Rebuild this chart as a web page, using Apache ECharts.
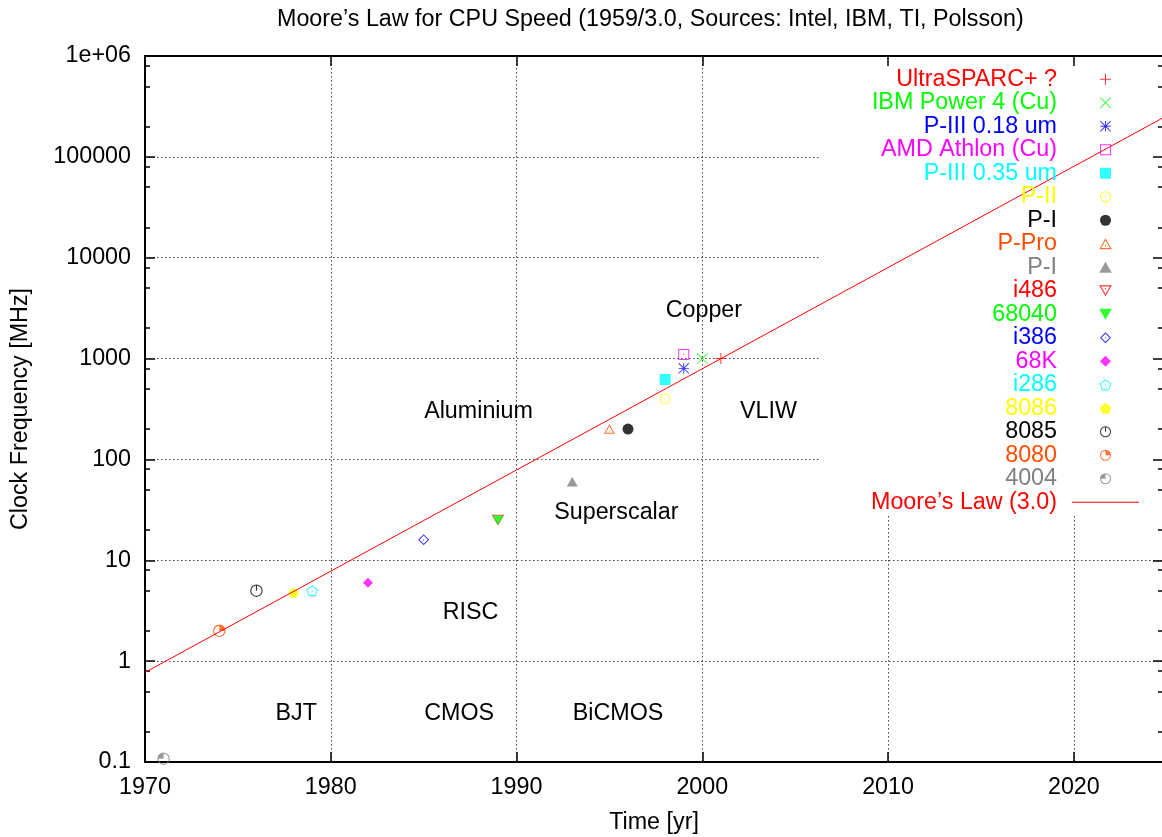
<!DOCTYPE html>
<html><head><meta charset="utf-8">
<script src="https://cdn.jsdelivr.net/npm/echarts@6/dist/echarts.min.js"></script>
<style>html,body{margin:0;padding:0;background:#fff}#c{width:1162px;height:837px}</style>
</head><body><div id="c"></div>
<script>
// ---------------- data ----------------
const chartTitle = 'Moore\u2019s Law for CPU Speed (1959/3.0, Sources: Intel, IBM, TI, Polsson)';
const xAxisName = 'Time [yr]';
const yAxisName = 'Clock Frequency [MHz]';
const yTickLabels = ['0.1', '1', '10', '100', '1000', '10000', '100000', '1e+06'];
const yMinorTicks = [0.2, 0.5, 0.8, 2, 5, 8, 20, 50, 80, 200, 500, 800, 2000, 5000, 8000, 20000, 50000, 80000, 200000, 500000, 800000];
const seriesNames = ['UltraSPARC+ ?', 'IBM Power 4 (Cu)', 'P-III 0.18 um', 'AMD Athlon (Cu)', 'P-III 0.35 um', 'P-II', 'P-I', 'P-Pro', 'P-I ', 'i486', '68040', 'i386', '68K', 'i286', '8086', '8085', '8080', '4004'];
const years    = [2001, 2000, 1999, 1999, 1998, 1998, 1996, 1995, 1993, 1989, 1989, 1985, 1982, 1979, 1978, 1976, 1974, 1971];
const clockMHz = [1000, 1000, 800, 1100, 620, 400, 200, 200, 60, 25, 25, 16, 6, 5, 4.77, 5, 2, 0.108];
const mooreName = 'Moore\u2019s Law (3.0)';
const mooreYears = [1970, 2024.8];
const mooreMHz = [0.774, 244000];
const regionLabels = ['Copper', 'Aluminium', 'VLIW', 'Superscalar', 'RISC', 'BJT', 'CMOS', 'BiCMOS'];
const regionYears  = [1998, 1985, 2002, 1992, 1986, 1977, 1985, 1993];
const regionMHz    = [3000, 300, 300, 30, 3, 0.3, 0.3, 0.3];

// ---------------- styles ----------------
const FONT = '"Liberation Sans", Arial, Helvetica, sans-serif';
const FS = 23.3;
const palette = ['#ff0000', '#00ff00', '#0000ff', '#ff00ff', '#00ffff', '#ffff00', '#000000', '#ff4d00', '#808080'];
const T = 1.8;
function poly(pts) { return 'M' + pts.map(p => p[0].toFixed(3) + ' ' + p[1].toFixed(3)).join('L') + 'Z'; }
function scaled(pts, cx, cy, k) { return pts.map(p => [cx + (p[0] - cx) * k, cy + (p[1] - cy) * k]); }
function dot(cx, cy) { const h = 0.9; return poly([[cx - h, cy - h], [cx + h, cy - h], [cx + h, cy + h], [cx - h, cy + h]]); }
function ring(pts, cx, cy, inr) { const k = (inr - T) / inr; return poly(pts) + poly(scaled(pts, cx, cy, k).reverse()) + dot(cx, cy); }
const r2 = 10 - T;
const circleRing = 'M0 10A10 10 0 1 1 20 10A10 10 0 1 1 0 10Z' +
  'M' + T + ' 10A' + r2 + ' ' + r2 + ' 0 1 0 ' + (20 - T) + ' 10A' + r2 + ' ' + r2 + ' 0 1 0 ' + T + ' 10Z';
const sq = [[0, 0], [20, 0], [20, 20], [0, 20]];
const triU = [[10, 0], [20, 17.32], [0, 17.32]];
const triD = [[0, 0], [20, 0], [10, 17.32]];
const dia = [[10, 0], [20, 10], [10, 20], [0, 10]];
const PR = 10.515;
const pent = [-90, -18, 54, 126, 198].map(a => [10 + PR * Math.cos(a * Math.PI / 180), PR + PR * Math.sin(a * Math.PI / 180)]);
const h = T / 2;
const plusP = poly([[10 - h, 0], [10 + h, 0], [10 + h, 20], [10 - h, 20]]) + poly([[0, 10 - h], [20, 10 - h], [20, 10 + h], [0, 10 + h]]);
const dd = h * 0.7071;
const crossP = poly([[dd, -dd], [20 + dd, 20 - dd], [20 - dd, 20 + dd], [-dd, dd]]) + poly([[20 - dd, -dd], [20 + dd, dd], [dd, 20 + dd], [-dd, 20 - dd]]);
const symbolList = [
  'path://' + plusP,
  'path://' + crossP,
  'path://' + plusP + crossP,
  'path://' + ring(sq, 10, 10, 10),
  'path://' + poly(sq),
  'path://' + circleRing + dot(10, 10),
  'circle',
  'path://' + ring(triU, 10, 11.547, 5.774),
  'path://' + poly(triU),
  'path://' + ring(triD, 10, 5.774, 5.774),
  'path://' + poly(triD),
  'path://' + ring(dia, 10, 10, 7.071),
  'path://' + poly(dia),
  'path://' + ring(pent, 10, PR, PR * Math.cos(Math.PI / 5)),
  'path://' + poly(pent),
  'path://' + circleRing + poly([[10 - h, 1], [10 + h, 1], [10 + h, 10], [10 - h, 10]]),
  'path://' + circleRing + 'M10 10L' + (20 - T) + ' 10A' + r2 + ' ' + r2 + ' 0 0 0 10 ' + T + 'Z',
  'path://' + circleRing + 'M10 10L10 ' + T + 'A' + r2 + ' ' + r2 + ' 0 0 0 ' + T + ' 10Z'
];
const symbolSizes = [11, 11, 11, 11, 11, 11, 11, 11, 11, 12.5, 11, 11, 10, 11.5, 10.5, 12.5, 12.5, 12.5];

const series = seriesNames.map((n, i) => ({
  name: n, type: 'scatter', xAxisIndex: 0, yAxisIndex: 0,
  data: [[years[i], clockMHz[i]]],
  symbol: symbolList[i], symbolSize: symbolSizes[i], symbolKeepAspect: true,
  itemStyle: { color: palette[i % 9], borderWidth: 0 },
  emphasis: { disabled: true }, clip: false
}));
series.push({
  name: mooreName, type: 'line', xAxisIndex: 0, yAxisIndex: 0,
  data: mooreYears.map((x, i) => [x, mooreMHz[i]]),
  symbol: 'none', color: '#ff0000',
  lineStyle: { color: '#ff0000', width: 1 },
  emphasis: { disabled: true }
});
series.push({
  name: 'regions', type: 'scatter', xAxisIndex: 0, yAxisIndex: 0, silent: true,
  data: regionLabels.map((t, i) => ({ name: t, value: [regionYears[i], regionMHz[i]] })),
  symbol: 'circle', symbolSize: 1, itemStyle: { color: 'rgba(0,0,0,0)' },
  label: { show: true, position: 'right', distance: 0, formatter: '{b}', color: '#000', opacity: 1, textBorderWidth: 0, fontSize: FS, fontFamily: FONT },
  emphasis: { disabled: true }
});

const legendData = seriesNames.map((n, i) => ({ name: n, textStyle: { color: palette[i % 9] } }));
legendData.push({ name: mooreName, icon: 'path://M0 0H67V1H0Z', itemStyle: { color: '#ff0000' }, textStyle: { color: '#ff0000' } });

const axisLine = { show: true, onZero: false, lineStyle: { color: '#000', width: 2 } };
const majorTick = { show: true, inside: true, length: 10, lineStyle: { color: '#000', width: 1.5 } };
const minorTick = { show: true, inside: true, length: 5, customValues: yMinorTicks, lineStyle: { color: '#000', width: 1.5 } };
const gridLine = { show: true, lineStyle: { color: '#444', width: 1, type: [1.5, 2.5] } };
const textBase = { fontSize: FS, fontFamily: FONT, color: '#000' };

const option = {
  animation: false,
  backgroundColor: '#fff',
  title: { text: chartTitle, left: 277, top: 8, padding: 0, textStyle: Object.assign({ fontWeight: 'normal' }, textBase) },
  grid: { left: 145, right: -1, top: 56, bottom: 75, containLabel: false, outerBoundsMode: 'none' },
  legend: {
    orient: 'vertical', right: 23, top: 67.5, align: 'right', padding: 0, itemGap: 0,
    itemWidth: 67, itemHeight: 11, symbolKeepAspect: true, selectedMode: false, z: 4,
    textStyle: { fontSize: FS, fontFamily: FONT, lineHeight: 23.5, padding: [0, 10, 0, 0] },
    lineStyle: { width: 1 },
    formatter: n => n.trim(),
    data: legendData
  },
  graphic: [{ type: 'rect', shape: { x: 819, y: 57, width: 345, height: 458 }, style: { fill: '#fff' }, z: 1, silent: true }],
  xAxis: [
    { type: 'value', min: 1970, max: 2024.8, interval: 10, position: 'bottom', z: 0,
      axisLine: axisLine, axisTick: majorTick,
      axisLabel: Object.assign({ margin: 14, showMaxLabel: false, formatter: v => String(v) }, textBase),
      splitLine: gridLine,
      name: xAxisName, nameLocation: 'middle', nameGap: 49, nameTextStyle: textBase },
    { type: 'value', min: 1970, max: 2024.8, interval: 10, position: 'top', z: 3,
      axisLine: axisLine, axisTick: majorTick, axisLabel: { show: false }, splitLine: { show: false } }
  ],
  yAxis: [
    { type: 'log', logBase: 10, min: 0.1, max: 1e6, splitNumber: 7, position: 'left', z: 0,
      axisLine: axisLine, axisTick: majorTick,
      axisLabel: Object.assign({ margin: 14, formatter: v => yTickLabels[Math.round(Math.log10(v)) + 1] }, textBase),
      splitLine: gridLine,
      name: yAxisName, nameLocation: 'middle', nameGap: 113, nameTextStyle: textBase },
    { type: 'log', logBase: 10, min: 0.1, max: 1e6, splitNumber: 7, position: 'left', z: 0,
      axisLine: { show: false }, axisTick: minorTick, axisLabel: { show: false }, splitLine: { show: false } },
    { type: 'log', logBase: 10, min: 0.1, max: 1e6, splitNumber: 7, position: 'right', z: 3,
      axisLine: axisLine, axisTick: majorTick, axisLabel: { show: false }, splitLine: { show: false } },
    { type: 'log', logBase: 10, min: 0.1, max: 1e6, splitNumber: 7, position: 'right', z: 3,
      axisLine: { show: false }, axisTick: minorTick, axisLabel: { show: false }, splitLine: { show: false } }
  ],
  series: series
};
const chart = echarts.init(document.getElementById('c'), null, { renderer: 'canvas' });
chart.setOption(option);
</script></body></html>
